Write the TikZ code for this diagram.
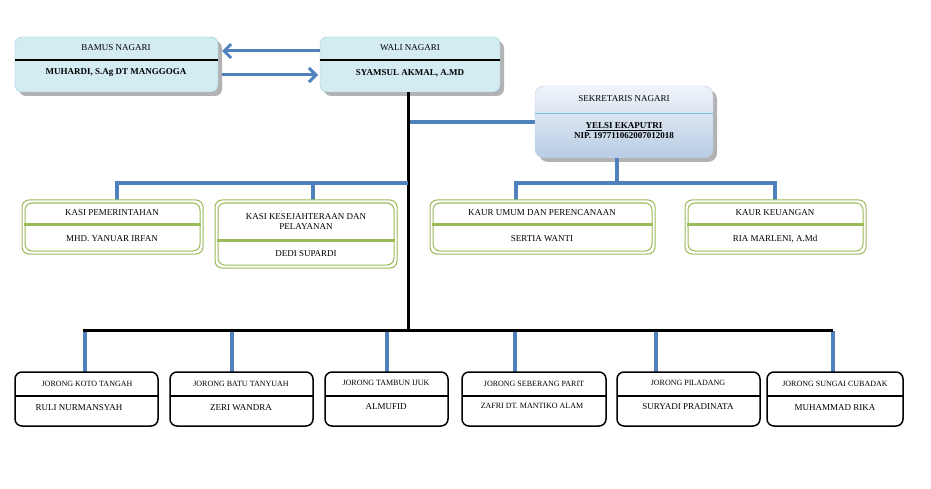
\documentclass[tikz,border=0pt]{standalone}
\usepackage{fontspec}
\setmainfont{Liberation Serif}
\usetikzlibrary{arrows.meta}
\definecolor{cblue}{RGB}{79,129,189}
\definecolor{ctopd}{RGB}{146,205,220}
\definecolor{ctopf}{RGB}{210,236,242}
\definecolor{csekd}{RGB}{185,205,228}
\definecolor{csekt}{RGB}{240,244,250}
\definecolor{csekb}{RGB}{184,204,228}
\definecolor{cgrn}{RGB}{155,187,89}
\definecolor{cdiv}{RGB}{120,190,210}
\begin{document}
\begin{tikzpicture}[x=1pt,y=-1pt,
  blue/.style={draw=cblue,line width=3.5pt},
  blk/.style={draw=black,line width=3pt},
  top/.style={rounded corners=7pt,draw=ctopd,fill=ctopf},
  sek/.style={rounded corners=9pt,draw=csekd,top color=csekt,bottom color=csekb},
  shd/.style={rounded corners=7pt,fill=gray!60},
  grn/.style={rounded corners=7pt,draw=cgrn,line width=1pt},
  jor/.style={rounded corners=7pt,draw=black,line width=1.5pt,fill=white},
  t/.style={font=\fontsize{9}{10}\selectfont,align=center},
  s/.style={font=\fontsize{8}{9}\selectfont,align=center},
  b/.style={font=\fontsize{9}{10}\selectfont\bfseries,align=center},
  arr/.style={blue,line width=3pt,-{Straight Barb[length=7pt,width=14pt]}}]
\useasboundingbox (0,0) rectangle (931,489);
% top boxes
\fill[shd] (19,41) rectangle (222,96);
\draw[top] (15,37) rectangle (218,92);
\draw[line width=1.2pt] (15,60) -- (218,60);
\node[t] (bamt) at (116,48) {BAMUS NAGARI};
\node[b] (bam) at (116,73) {MUHARDI, S.Ag DT MANGGOGA};
\fill[shd] (324,41) rectangle (504,96);
\draw[top] (320,37) rectangle (500,92);
\draw[line width=1.2pt] (320,60) -- (500,60);
\node[t] (walt) at (410,48) {WALI NAGARI};
\node[b] (wal) at (410,73) {SYAMSUL AKMAL, A.MD};
\coordinate (a1) at (320,51); \coordinate (a2) at (222,51);
\coordinate (a3) at (222,75); \coordinate (a4) at (318,75);
\draw[arr] (a1) -- (a2);
\draw[arr] (a3) -- (a4);
% main vertical
\coordinate (v0) at (408,92); \coordinate (v1) at (408,330);
\coordinate (s0) at (408,122); \coordinate (s1) at (535,122);
\draw[blue] (s0) -- (s1);
\draw[blk] (v0) -- (v1);
% sekretaris
\fill[shd,rounded corners=9pt] (539,90) rectangle (717,162);
\draw[sek] (535,86) rectangle (713,158);
\draw[draw=cdiv,line width=0.8pt] (535,113) -- (713,113);
\node[t] (sekt) at (624,99) {SEKRETARIS NAGARI};
\node[b] (sek) at (624,131) {\underline{YELSI EKAPUTRI}\\NIP. 197711062007012018};
% blue branches
\coordinate (l0) at (117,183); \coordinate (l1) at (408,183);
\draw[blue] (117,200) -- (l0) -- (l1);
\draw[blue] (313,183) -- (313,200);
\draw[blue] (617,158) -- (617,183);
\draw[blue] (516,200) -- (516,183) -- (775,183) -- (775,200);
% green boxes
\foreach \xa/\ya/\xb/\yb/\dv in {22/200/203/254/224, 215/200/397/268/240, 430/200/655/254/224, 685/200/866/254/224}{
  \draw[grn,fill=white] (\xa,\ya) rectangle (\xb,\yb);
  \draw[grn] (\xa+3,\ya+3) rectangle (\xb-3,\yb-3);
  \draw[draw=cgrn,line width=3pt] (\xa+2,\dv) -- (\xb-2,\dv);
}
\node[t] (k1t) at (112,213) {KASI PEMERINTAHAN};
\node[t] (k1) at (112,239) {MHD. YANUAR IRFAN};
\node[t] (k2t) at (306,222) {KASI KESEJAHTERAAN DAN\\PELAYANAN};
\node[t] (k2) at (306,254) {DEDI SUPARDI};
\node[t] (k3t) at (542,213) {KAUR UMUM DAN PERENCANAAN};
\node[t] (k3) at (542,239) {SERTIA WANTI};
\node[t] (k4t) at (775,213) {KAUR KEUANGAN};
\node[t] (k4) at (775,239) {RIA MARLENI, A.Md};
% jorong
\coordinate (h0) at (83,330); \coordinate (h1) at (833,330);
\foreach \x in {85,232,387,515,656,833} \draw[blue] (\x,331) -- (\x,372);
\draw[blk] (h0) -- (h1);
\foreach \xa/\xb in {15/158,170/313,325/448,462/606,617/760,767/903}{
  \draw[jor] (\xa,372) rectangle (\xb,426);
  \draw[line width=1.5pt] (\xa,396) -- (\xb,396);
}
\node[s] (j1t) at (87,384) {JORONG KOTO TANGAH};
\node[t] (j1) at (79,408) {RULI NURMANSYAH};
\node[s] (j2t) at (241,384) {JORONG BATU TANYUAH};
\node[t] (j2) at (241,408) {ZERI WANDRA};
\node[s] (j3t) at (386,383) {JORONG TAMBUN IJUK};
\node[t] (j3) at (386,407) {ALMUFID};
\node[s] (j4t) at (534,384) {JORONG SEBERANG PARIT};
\node[s] (j4) at (532,406) {ZAFRI DT. MANTIKO ALAM};
\node[s] (j5t) at (688,383) {JORONG PILADANG};
\node[t] (j5) at (688,407) {SURYADI PRADINATA};
\node[s] (j6t) at (835,384) {JORONG SUNGAI CUBADAK};
\node[t] (j6) at (835,408) {MUHAMMAD RIKA};
\end{tikzpicture}
\end{document}
